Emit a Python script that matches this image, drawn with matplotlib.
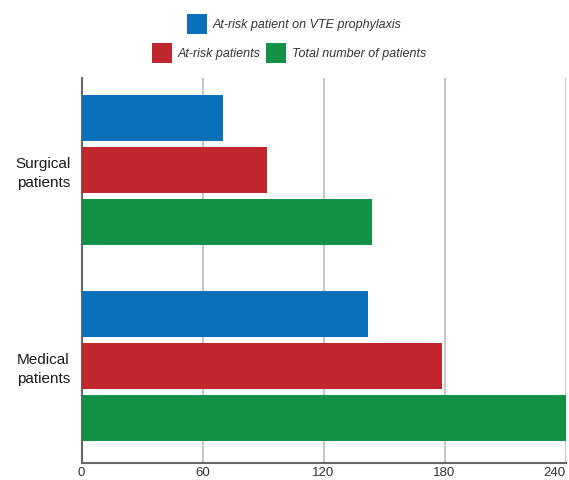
import matplotlib
matplotlib.use("Agg")
import matplotlib.pyplot as plt
from matplotlib.patches import Patch
from matplotlib.font_manager import FontProperties
import numpy as np

categories = ["Surgical\npatients", "Medical\npatients"]
series_names = ["At-risk patient on VTE prophylaxis", "At-risk patients", "Total number of patients"]
vte = [70, 142]
at_risk = [92, 179]
total = [144, 240]
colors = ["#0b6fba", "#c1272f", "#139247"]
xticks = [0, 60, 120, 180, 240]

base = "Liberation Sans"
ylab_fp = FontProperties(family=base, size=11)
tick_fp = FontProperties(family=base, size=9.5)
leg_fp = FontProperties(family=base, style="italic", size=9)

W, H = 569, 480
fig = plt.figure(figsize=(W / 100, H / 100), dpi=100)
ax = fig.add_axes([81.5 / W, (H - 463) / H, (565.5 - 81.5) / W, (463 - 78) / H])

y = np.arange(len(categories))
bh = 0.235
off = 0.265
for i, (vals, c) in enumerate(zip([vte, at_risk, total], colors)):
    ax.barh(y + (i - 1) * off, vals, height=bh, color=c, zorder=3, label=series_names[i])

ax.set_xlim(0, 240)
ax.set_ylim(1.495, -0.469)
ax.set_xticks(xticks)
ax.set_xticklabels([str(v) for v in xticks], fontproperties=tick_fp, color="#333333")
ax.get_xticklabels()[-1].set_horizontalalignment("right")
ax.set_yticks(y)
ax.set_yticklabels(categories, fontproperties=ylab_fp, color="#1a1a1a", ha="center", linespacing=1.45)
ax.tick_params(axis="y", length=0, pad=27.5)
ax.tick_params(axis="x", length=0, pad=3)
ax.grid(axis="x", color="#c8c8c8", linewidth=1.5, zorder=0)
ax.set_axisbelow(True)
for s in ["top", "right"]:
    ax.spines[s].set_visible(False)
for s in ["left", "bottom"]:
    ax.spines[s].set_color("#666666")
    ax.spines[s].set_linewidth(1.5)

h = [Patch(facecolor=c) for c in colors]
leg_kw = dict(frameon=False, handlelength=1.6, handleheight=2.1, handletextpad=0.45,
              columnspacing=0.45, borderaxespad=0, borderpad=0, prop=leg_fp)
l1 = fig.legend([h[0]], [series_names[0]], loc="center", bbox_to_anchor=(294 / W, 1 - 24 / H), ncol=1, **leg_kw)
for t in l1.get_texts():
    t.set_color("#333333")
l2 = fig.legend(h[1:], series_names[1:], loc="center", bbox_to_anchor=(289 / W, 1 - 53 / H), ncol=2, **leg_kw)
for t in l2.get_texts():
    t.set_color("#333333")

fig.savefig("out.png", dpi=100)
